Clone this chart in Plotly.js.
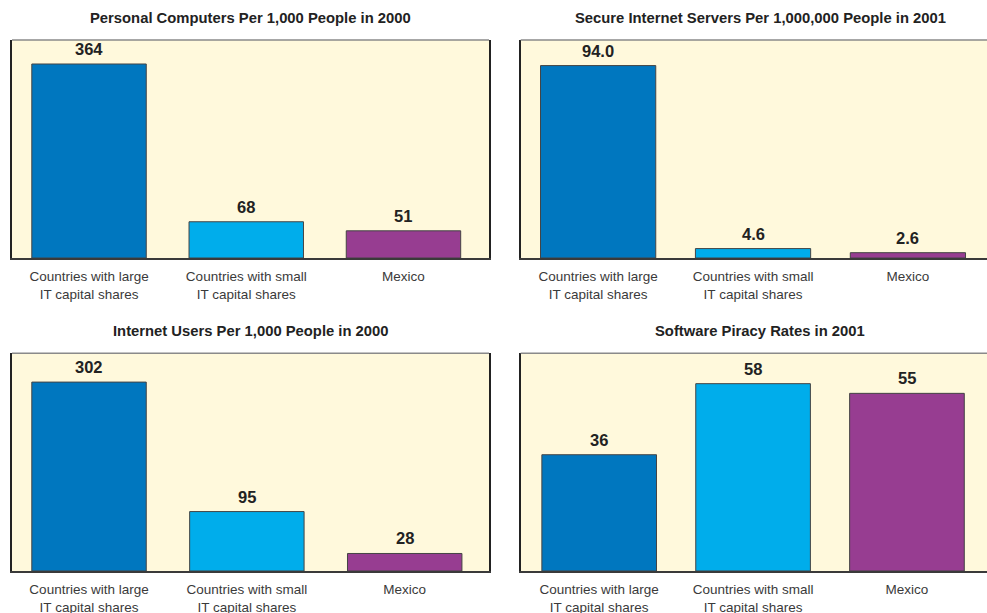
<!DOCTYPE html>
<html>
<head>
<meta charset="utf-8">
<script src="https://cdn.plot.ly/plotly-3.0.1.min.js"></script>
<style>
  html, body { margin: 0; padding: 0; background: #ffffff; overflow: hidden; }
  #wrap { width: 987px; height: 613px; overflow: hidden; position: relative; }
  #chart { width: 1012px; height: 613px; }
</style>
</head>
<body>
<div id="wrap"><div id="chart"></div></div>
<script>
// ---- data ----
const categories = [
  "Countries with large<br>IT capital shares",
  "Countries with small<br>IT capital shares",
  "Mexico"
];
const pcValues = [364, 68, 51];
const serverValues = [94.0, 4.6, 2.6];
const internetValues = [302, 95, 28];
const piracyValues = [36, 58, 55];
const panelTitles = [
  "Personal Computers Per 1,000 People in 2000",
  "Secure Internet Servers Per 1,000,000 People in 2001",
  "Internet Users Per 1,000 People in 2000",
  "Software Piracy Rates in 2001"
];
const valueDecimals = [0, 1, 0, 0];
const barColors = ["#0077BF", "#00ADEB", "#973D91"];

// ---- layout geometry ----
const W = 1012, H = 613;
const px = v => v / W;
const py = v => (H - v) / H;

const panels = [
  { values: pcValues,       xdom: [px(12), px(489)],      ydom: [py(258), py(40)],    yrange: [0, 409],   xrange: [-0.49, 2.544], width: 0.728 },
  { values: serverValues,   xdom: [px(520.7), px(999.3)], ydom: [py(258), py(40)],    yrange: [0, 106.5], xrange: [-0.50, 2.59],  width: 0.744 },
  { values: internetValues, xdom: [px(12), px(489)],      ydom: [py(571), py(353.3)], yrange: [0, 348],   xrange: [-0.488, 2.534], width: 0.725 },
  { values: piracyValues,   xdom: [px(520.7), px(999.3)], ydom: [py(571), py(353.3)], yrange: [0, 67.4],  xrange: [-0.51, 2.60],  width: 0.745 }
];

const fontFam = '"Liberation Sans", Arial, Helvetica, sans-serif';
const traces = [];
const annotations = [];
const shapes = [];
const layout = {
  width: W, height: H,
  margin: { l: 0, r: 0, t: 0, b: 0 },
  paper_bgcolor: "#ffffff",
  plot_bgcolor: "#FFF9DC",
  showlegend: false,
  font: { family: fontFam, color: "#333333", size: 13 },
  annotations: annotations,
  shapes: shapes
};

panels.forEach((p, i) => {
  const n = i + 1;
  const xa = n === 1 ? "x" : "x" + n;
  const ya = n === 1 ? "y" : "y" + n;
  traces.push({
    type: "bar",
    x: categories,
    y: p.values,
    xaxis: xa, yaxis: ya,
    width: p.width,
    marker: { color: barColors, line: { color: "#444444", width: 1 } },
    hoverinfo: "none"
  });
  layout["xaxis" + (n === 1 ? "" : n)] = {
    domain: p.xdom,
    anchor: ya,
    type: "category",
    range: p.xrange,
    showline: true, linecolor: "#3a3a3a", linewidth: 2,
    showgrid: false, zeroline: false,
    ticks: "", ticklabelstandoff: 5,
    tickfont: { family: fontFam, size: 13.5, color: "#3a3a3a" },
    fixedrange: true
  };
  layout["yaxis" + (n === 1 ? "" : n)] = {
    domain: p.ydom,
    anchor: xa,
    range: p.yrange,
    showline: true, mirror: true, linecolor: "#222222", linewidth: 2,
    showgrid: false, zeroline: false,
    showticklabels: false, ticks: "",
    fixedrange: true
  };
  // lighter top border
  shapes.push({
    type: "line", xref: xa + " domain", yref: ya + " domain",
    x0: 0, x1: 1, y0: 1, y1: 1,
    line: { color: "#8a8a8a", width: 1.5 }
  });
  // panel title
  annotations.push({
    xref: "paper", yref: "paper",
    x: (p.xdom[0] + p.xdom[1]) / 2,
    y: p.ydom[1] + 22 / H,
    xanchor: "center", yanchor: "middle",
    text: "<b>" + panelTitles[i] + "</b>",
    showarrow: false,
    font: { family: fontFam, size: 14.8, color: "#222222" }
  });
  // value labels
  p.values.forEach((v, j) => {
    annotations.push({
      xref: xa, yref: ya,
      x: categories[j], y: v,
      xanchor: "center", yanchor: "middle",
      yshift: 15,
      text: "<b>" + v.toFixed(valueDecimals[i]) + "</b>",
      showarrow: false,
      font: { family: fontFam, size: 16.5, color: "#222222" }
    });
  });
});

Plotly.newPlot("chart", traces, layout, { staticPlot: true, displayModeBar: false });
</script>
</body>
</html>
